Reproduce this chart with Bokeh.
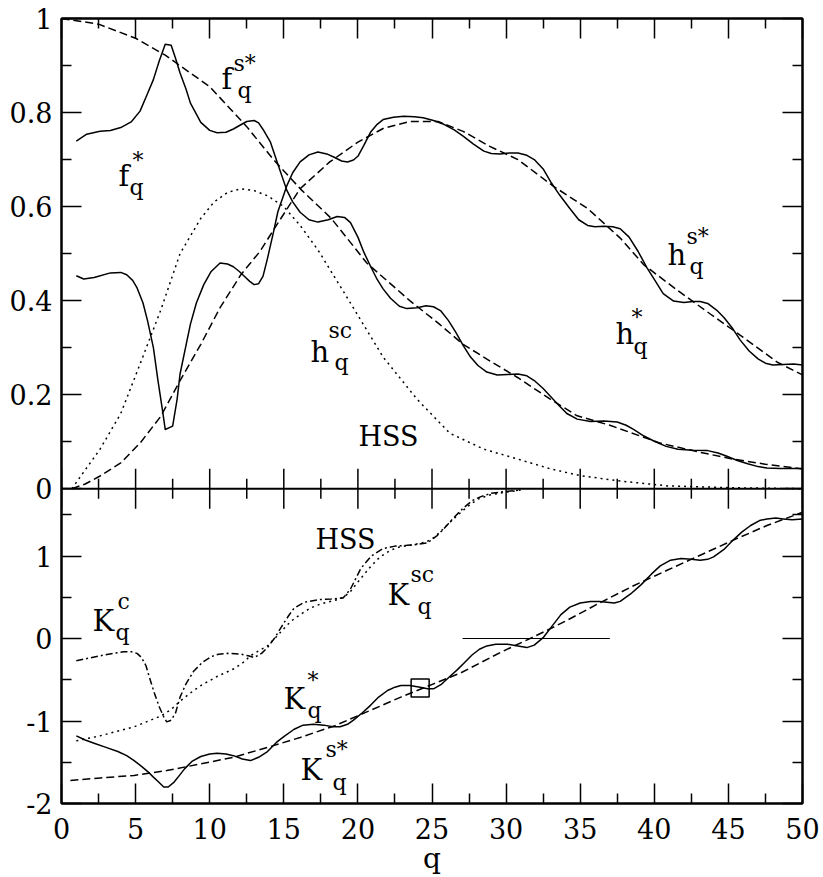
import numpy as np
from bokeh.plotting import figure
from bokeh.models import (Range1d, LinearAxis, FixedTicker, CustomJSTickFormatter,
                          Span, ColumnDataSource)
from bokeh.core.properties import value
from bokeh.embed import file_html
from bokeh.resources import INLINE

# ======================= DATA =======================
# ---- upper panel ----
fs_q = [0, 2.5, 5, 7, 10, 12.5, 14.3, 16.2, 18.2, 20.6, 23.5, 25.5, 27.1, 29, 30.8,
        33, 34.8, 37, 40.4, 43, 45.3, 47.5, 50]
fs_v = [1.0, 0.988, 0.958, 0.922, 0.855, 0.77, 0.70, 0.635, 0.575, 0.48, 0.40, 0.35,
        0.307, 0.27, 0.236, 0.19, 0.155, 0.135, 0.097, 0.078, 0.063, 0.052, 0.042]

hs_q = [0.7, 1.6, 2.6, 4, 5.3, 6.7, 8, 9.4, 10.7, 12.1, 13.4, 14.5, 16.1, 18.1, 20, 21.7,
        23.5, 25.4, 27.1, 28.9, 30.8, 33.2, 35.5, 37.7, 39.3, 41.6, 43.8, 46, 48.3, 50]
hs_v = [0.0, 0.01, 0.027, 0.055, 0.097, 0.154, 0.23, 0.307, 0.385, 0.455, 0.505, 0.56,
        0.638, 0.695, 0.737, 0.766, 0.781, 0.781, 0.760, 0.728, 0.70, 0.643, 0.596,
        0.533, 0.476, 0.421, 0.371, 0.322, 0.269, 0.242]

hsc_q = [0.7, 1.6, 2.6, 4, 5.3, 6.7, 8, 9.4, 10.3, 11.2, 12.1, 13.0, 13.9, 15, 16.1,
         17.3, 19.4, 21.7, 24, 26.2, 28.5, 30.8, 33, 35, 37.5, 40.9, 45.3, 50]
hsc_v = [0.0, 0.04, 0.084, 0.16, 0.265, 0.38, 0.50, 0.575, 0.61, 0.63, 0.638, 0.634,
         0.623, 0.60, 0.56, 0.508, 0.40, 0.28, 0.19, 0.118, 0.084, 0.063, 0.042, 0.028,
         0.017, 0.006, 0.002, 0.0]

fq_q = [1.0, 1.7, 2.6, 3.3, 4.0, 4.7, 5.3, 5.8, 6.2, 6.6, 7.0, 7.4, 7.7, 8.0, 8.4, 8.7,
        9.4, 10.0, 10.5, 11.1, 11.6, 12.1, 12.5, 13.0, 13.3, 13.6, 14.1, 14.6, 15.2,
        15.6, 16.1, 16.7, 17.3, 18.0, 18.6, 19.1, 19.5, 20.0, 20.4, 20.9, 21.3, 21.7,
        22.2, 22.8, 23.3, 24.0, 24.6, 25.1, 25.6, 26.1, 26.6, 27.1, 27.6, 28.1, 28.7,
        29.4, 30.1, 30.8, 31.4, 31.9, 32.5, 33.0, 33.6, 34.1, 34.8, 35.7, 36.6, 37.5,
        38.1, 38.6, 39.3, 40.0, 40.8, 41.6, 42.6, 43.6, 44.3, 44.9, 45.6, 46.3, 47.0,
        47.6, 48.5, 50]
fq_v = [0.739, 0.754, 0.76, 0.762, 0.768, 0.78, 0.803, 0.84, 0.87, 0.91, 0.945, 0.943,
        0.915, 0.884, 0.85, 0.82, 0.779, 0.762, 0.757, 0.758, 0.765, 0.774, 0.781, 0.783,
        0.778, 0.764, 0.737, 0.69, 0.635, 0.61, 0.588, 0.572, 0.567, 0.572, 0.579, 0.577,
        0.566, 0.535, 0.503, 0.47, 0.445, 0.425, 0.405, 0.388, 0.383, 0.385, 0.389,
        0.387, 0.378, 0.358, 0.333, 0.305, 0.28, 0.262, 0.248, 0.242, 0.243, 0.244,
        0.240, 0.230, 0.213, 0.196, 0.176, 0.16, 0.148, 0.143, 0.144, 0.142, 0.135,
        0.126, 0.112, 0.101, 0.09, 0.084, 0.082, 0.081, 0.076, 0.069, 0.06, 0.053,
        0.047, 0.044, 0.043, 0.043]

hq_q = [1.0, 1.5, 2.2, 3.3, 4.0, 4.4, 4.8, 5.1, 5.5, 5.8, 6.2, 6.5, 6.8, 7.0, 7.5, 7.8,
        8.0, 8.4, 8.7, 9.1, 9.6, 10.1, 10.7, 11.2, 11.6, 12.0, 12.3, 12.7, 13.0, 13.3,
        13.6, 13.9, 14.3, 14.6, 15.2, 15.6, 16.1, 16.7, 17.3, 17.9, 18.4, 18.9, 19.3,
        19.7, 20.0, 20.4, 20.85, 21.3, 21.7, 22.4, 23.1, 23.8, 24.4, 25.1, 25.8, 26.5,
        27.1, 27.8, 28.5, 29.0, 29.6, 30.2, 30.8, 31.4, 31.9, 32.5, 33.0, 33.6, 34.3,
        34.9, 35.5, 36.0, 36.6, 37.2, 37.7, 38.3, 38.9, 39.5, 40.0, 40.6, 41.3, 42.0,
        42.6, 43.1, 43.6, 44.2, 44.7, 45.3, 45.8, 46.4, 47.0, 47.5, 48.0, 48.7, 49.4, 50]
hq_v = [0.453, 0.446, 0.449, 0.459, 0.46, 0.455, 0.443, 0.427, 0.395, 0.358, 0.30,
        0.232, 0.17, 0.126, 0.133, 0.19, 0.244, 0.305, 0.35, 0.395, 0.434, 0.462, 0.48,
        0.478, 0.472, 0.462, 0.453, 0.441, 0.434, 0.436, 0.452, 0.49, 0.545, 0.589,
        0.644, 0.672, 0.695, 0.71, 0.716, 0.712, 0.705, 0.697, 0.695, 0.699, 0.707,
        0.73, 0.758, 0.775, 0.785, 0.79, 0.792, 0.791, 0.789, 0.783, 0.775, 0.763, 0.75,
        0.733, 0.718, 0.713, 0.712, 0.714, 0.714, 0.709, 0.70, 0.68, 0.653, 0.625,
        0.596, 0.572, 0.56, 0.557, 0.558, 0.557, 0.553, 0.535, 0.505, 0.47, 0.445,
        0.415, 0.399, 0.396, 0.398, 0.398, 0.394, 0.38, 0.364, 0.34, 0.316, 0.293,
        0.276, 0.267, 0.263, 0.264, 0.265, 0.263]

# ---- lower panel ----
ks_q = [0.6, 2.6, 4.9, 7.1, 9.4, 11.6, 13.9, 16.1, 18.4, 20.6, 22.9, 25.1, 26.9, 29.6,
        31.5, 33, 34.1, 36.3, 38.6, 40.9, 43.1, 45.3, 47.6, 50]
ks_v = [-1.72, -1.69, -1.66, -1.60, -1.52, -1.44, -1.32, -1.20, -1.06, -0.89, -0.71,
        -0.55, -0.42, -0.17, -0.01, 0.12, 0.22, 0.43, 0.64, 0.83, 1.01, 1.19, 1.37, 1.53]

kq_q = [1.0, 1.6, 2.2, 3.0, 3.8, 4.4, 4.9, 5.4, 5.8, 6.2, 6.5, 6.9, 7.2, 7.6, 8.0, 8.3,
        8.8, 9.4, 10.0, 10.5, 11.1, 11.6, 12.2, 12.75, 13.3, 13.9, 14.5, 15.0, 15.7,
        16.3, 17.0, 17.7, 18.3, 18.8, 19.3, 19.7, 20.3, 20.85, 21.4, 22.0, 22.5, 22.9,
        23.5, 24.2, 24.7, 25.1, 25.6, 26.2, 26.7, 27.2, 27.7, 28.2, 28.7, 29.3, 30.1,
        30.8, 31.4, 31.9, 32.5, 33.1, 33.7, 34.3, 35.0, 35.7, 36.3, 36.8, 37.3, 37.7,
        38.4, 39.1, 39.8, 40.4, 41.1, 41.8, 42.5, 43.1, 43.6, 44.0, 44.7, 45.3, 45.9,
        46.5, 47.1, 47.6, 48.2, 48.7, 49.3, 50]
kq_v = [-1.18, -1.23, -1.27, -1.32, -1.37, -1.42, -1.48, -1.55, -1.61, -1.68, -1.73,
        -1.80, -1.80, -1.74, -1.65, -1.58, -1.49, -1.43, -1.40, -1.39, -1.40, -1.42,
        -1.46, -1.48, -1.44, -1.37, -1.26, -1.19, -1.10, -1.05, -1.04, -1.05, -1.07,
        -1.07, -1.04, -0.99, -0.90, -0.81, -0.71, -0.63, -0.59, -0.57, -0.57, -0.59,
        -0.61, -0.61, -0.56, -0.46, -0.38, -0.29, -0.20, -0.13, -0.09, -0.07, -0.07,
        -0.09, -0.11, -0.08, 0.01, 0.15, 0.29, 0.38, 0.43, 0.45, 0.45, 0.44, 0.43, 0.45,
        0.54, 0.65, 0.78, 0.88, 0.95, 0.97, 0.96, 0.95, 0.96, 0.99, 1.08, 1.19, 1.29,
        1.37, 1.43, 1.45, 1.46, 1.45, 1.44, 1.45]

ksc_q = [1.0, 2.6, 4.9, 6.7, 7.4, 8.0, 8.7, 9.4, 10.5, 11.6, 12.2, 12.75, 13.3, 13.9,
         14.6, 15.2, 15.7, 16.2, 16.8, 17.5, 18.6, 19.1, 19.5, 20.2, 20.85, 21.5, 22.2,
         22.8, 23.5, 24.1, 24.6, 25.1, 25.6, 26.1, 26.7, 27.4, 28.1, 28.9, 29.8, 31.0]
ksc_v = [-1.24, -1.18, -1.07, -0.94, -0.86, -0.76, -0.66, -0.57, -0.46, -0.37, -0.30,
         -0.21, -0.15, -0.09, 0.04, 0.16, 0.24, 0.30, 0.37, 0.42, 0.47, 0.51, 0.57, 0.73,
         0.87, 0.99, 1.07, 1.11, 1.13, 1.15, 1.17, 1.22, 1.30, 1.39, 1.49, 1.60, 1.69,
         1.74, 1.77, 1.80]

kc_q = [1.0, 2.6, 3.5, 4.2, 4.7, 5.1, 5.4, 5.7, 6.0, 6.3, 6.6, 6.9, 7.1, 7.4, 7.7, 8.0,
        8.4, 8.9, 9.5, 10.1, 10.6, 11.2, 12.1, 12.6, 13.0, 13.5, 13.9, 14.4, 14.8, 15.3,
        15.7, 16.4, 17.3, 18.2, 19.0, 19.5, 20.2, 20.9, 21.7, 22.5, 23.3, 24.0, 24.7,
        25.3, 25.8, 26.5, 27.1, 27.7, 28.3, 29.0, 29.8, 31.0]
kc_v = [-0.27, -0.21, -0.18, -0.16, -0.16, -0.18, -0.23, -0.33, -0.51, -0.68, -0.83,
        -0.95, -1.01, -0.99, -0.90, -0.71, -0.55, -0.40, -0.29, -0.22, -0.19, -0.18,
        -0.19, -0.21, -0.23, -0.18, -0.11, 0.01, 0.13, 0.27, 0.37, 0.44, 0.47, 0.48,
        0.49, 0.60, 0.85, 1.00, 1.09, 1.12, 1.13, 1.14, 1.16, 1.24, 1.33, 1.47, 1.58,
        1.67, 1.72, 1.76, 1.78, 1.80]

guide_q = [27.06, 37.0]
guide_v = [0.0, 0.0]
mark_q = [24.2]
mark_v = [-0.60]

# ---- ticks ----
x_major = [0, 5, 10, 15, 20, 25, 30, 35, 40, 45, 50]
x_labels = ["0", "5", "10", "15", "20", "25", "30", "35", "40", "45", "50"]
x_minor = [2.5, 7.5, 12.5, 17.5, 22.5, 27.5, 32.5, 37.5, 42.5, 47.5]
top_y_major = [0, 0.2, 0.4, 0.6, 0.8, 1.0]
top_y_labels = ["0", "0.2", "0.4", "0.6", "0.8", "1"]
top_y_minor = [0.1, 0.3, 0.5, 0.7, 0.9]
bot_y_major = [-2, -1, 0, 1]
bot_y_labels = ["-2", "-1", "0", "1"]
bot_y_minor = [-1.5, -0.5, 0.5, 1.5]

# ======================= LAYOUT =======================
FONT = "DejaVu Serif"
TICK_FS = "27px"
TOP_PX, BOT_PX = 475, 318
TOP_LO, TOP_HI = 0.0, 1.0
BOT_LO, BOT_HI = -2.0, 1.816
top_ppu = TOP_PX / (TOP_HI - TOP_LO)
bot_ppu = BOT_PX / (BOT_HI - BOT_LO)
y_start = TOP_LO - BOT_PX / top_ppu
bot_end = BOT_HI + TOP_PX / bot_ppu


def bot_to_main(w):
    return TOP_LO - (BOT_HI - w) * bot_ppu / top_ppu


p = figure(width=823, height=877, x_range=Range1d(0, 50),
           y_range=Range1d(y_start, TOP_HI),
           output_backend="svg", toolbar_location=None,
           x_axis_location=None, y_axis_location=None,
           min_border_left=61, min_border_right=21, min_border_top=18,
           min_border_bottom=66)
p.extra_y_ranges = {"bot": Range1d(BOT_LO, bot_end)}
p.grid.visible = False
p.outline_line_color = "black"
p.outline_line_width = 2

yt_pos = top_y_major + [bot_to_main(w) for w in bot_y_major]
yt_lab = top_y_labels + bot_y_labels
yt_min = top_y_minor + [bot_to_main(w) for w in bot_y_minor]

LOOKUP = """
for (let i = 0; i < pos.length; i++) {
  if (Math.abs(pos[i] - tick) < 1e-6) { return lab[i]; }
}
return "";
"""


def make_axis(ticker, fmt, standoff):
    ax = LinearAxis(ticker=ticker, formatter=fmt)
    ax.axis_line_width = 2
    ax.major_tick_in = 20
    ax.major_tick_out = 0
    ax.minor_tick_in = 10
    ax.minor_tick_out = 0
    ax.major_tick_line_width = 1.5
    ax.minor_tick_line_width = 1.5
    ax.major_label_text_font = FONT
    ax.major_label_text_font_size = TICK_FS
    ax.major_label_text_color = "black"
    ax.major_label_standoff = standoff
    return ax


empty_fmt = CustomJSTickFormatter(code='return "";')
yfmt = CustomJSTickFormatter(args=dict(pos=yt_pos, lab=yt_lab), code=LOOKUP)
xfmt = CustomJSTickFormatter(args=dict(pos=x_major, lab=x_labels), code=LOOKUP)

left = make_axis(FixedTicker(ticks=yt_pos, minor_ticks=yt_min), yfmt, 9)
right = make_axis(FixedTicker(ticks=yt_pos, minor_ticks=yt_min), empty_fmt, 0)
right.major_label_text_font_size = "1px"
top = make_axis(FixedTicker(ticks=x_major, minor_ticks=x_minor), empty_fmt, 0)
top.major_label_text_font_size = "1px"
bottom = make_axis(FixedTicker(ticks=x_major, minor_ticks=x_minor), xfmt, 14)
bottom.axis_label = "q"
bottom.axis_label_text_font = FONT
bottom.axis_label_text_font_size = "28px"
bottom.axis_label_text_font_style = "normal"
bottom.axis_label_text_color = "black"
bottom.axis_label_standoff = 0

p.add_layout(left, "left")
p.add_layout(right, "right")
p.add_layout(top, "above")
p.add_layout(bottom, "below")

# boundary between the two panels, with ticks both ways
p.add_layout(Span(location=0, dimension="width", line_color="black", line_width=2))
p.scatter(x=x_major, y=[TOP_LO] * len(x_major), marker="dash", size=40,
          angle=np.pi / 2, line_color="black", line_width=1.5)
p.scatter(x=x_minor, y=[TOP_LO] * len(x_minor), marker="dash", size=20,
          angle=np.pi / 2, line_color="black", line_width=1.5)

# ---- curves ----
DASH = "8 4"
DOT = "2 4"
DASHDOT = "7 3 2 3"
LW = 1.5
p.line(fs_q, fs_v, line_color="black", line_width=LW, line_dash=DASH)
p.line(hs_q, hs_v, line_color="black", line_width=LW, line_dash=DASH)
p.line(hsc_q, hsc_v, line_color="black", line_width=LW, line_dash=DOT)
p.line(fq_q, fq_v, line_color="black", line_width=LW, line_join="round")
p.line(hq_q, hq_v, line_color="black", line_width=LW, line_join="round")

p.line(ks_q, ks_v, line_color="black", line_width=LW, line_dash=DASH, y_range_name="bot")
p.line(kq_q, kq_v, line_color="black", line_width=LW, line_join="round", y_range_name="bot")
p.line(ksc_q, ksc_v, line_color="black", line_width=LW, line_dash=DOT, y_range_name="bot")
p.line(kc_q, kc_v, line_color="black", line_width=LW, line_dash=DASHDOT, y_range_name="bot")
p.line(guide_q, guide_v, line_color="black", line_width=1, y_range_name="bot")
p.scatter(mark_q, mark_v, marker="square", size=18, fill_color=None,
          line_color="black", line_width=1.5, y_range_name="bot")

# ---- annotations (symbol, superscript, subscript) ----
top_lab = dict(x=[10.80, 3.85, 16.80, 40.89, 37.38],
               y=[0.872, 0.665, 0.291, 0.497, 0.328],
               main=["f", "f", "h", "h", "h"],
               sup=["s*", "*", "sc", "s*", "*"],
               sub=["q", "q", "q", "q", "q"],
               sup_dx=[12, 14, 18, 19, 16], sup_dy=[-15, -16, -21, -19, -17],
               sub_dx=[16, 11, 24, 22, 18], sub_dy=[12, 11, 11, 11, 12])
bot_lab = dict(x=[22.0, 2.09, 14.98, 16.13],
               y=[0.53, 0.21, -0.73, -1.59],
               main=["K", "K", "K", "K"],
               sup=["sc", "c", "*", "s*"],
               sub=["q", "q", "q", "q"],
               sup_dx=[23, 25, 24, 25], sup_dy=[-20, -20, -18, -20],
               sub_dx=[30, 23, 24, 32], sub_dy=[12, 11, 12, 13])
hss_top = dict(x=[20.04], y=[0.112], t=["HSS"])
hss_bot = dict(x=[17.14], y=[1.20], t=["HSS"])

BIG, SMALL = "29px", "22px"


def draw_labels(d, rng):
    src = ColumnDataSource(d)
    kw = dict(text_font=value(FONT), text_color="black", text_align="left",
              text_baseline="alphabetic", source=src)
    if rng:
        kw["y_range_name"] = rng
    p.text(x="x", y="y", text="main", text_font_size=BIG, **kw)
    p.text(x="x", y="y", text="sup", x_offset="sup_dx", y_offset="sup_dy",
           text_font_size=SMALL, **kw)
    p.text(x="x", y="y", text="sub", x_offset="sub_dx", y_offset="sub_dy",
           text_font_size=SMALL, **kw)


draw_labels(top_lab, None)
draw_labels(bot_lab, "bot")
p.text(x="x", y="y", text="t", source=ColumnDataSource(hss_top), text_font=value(FONT),
       text_font_size="27px", text_baseline="alphabetic", text_align="left",
       text_color="black")
p.text(x="x", y="y", text="t", source=ColumnDataSource(hss_bot), text_font=value(FONT),
       text_font_size="27px", text_baseline="alphabetic", text_align="left",
       text_color="black", y_range_name="bot")

open("out.html", "w").write(file_html(p, INLINE))
